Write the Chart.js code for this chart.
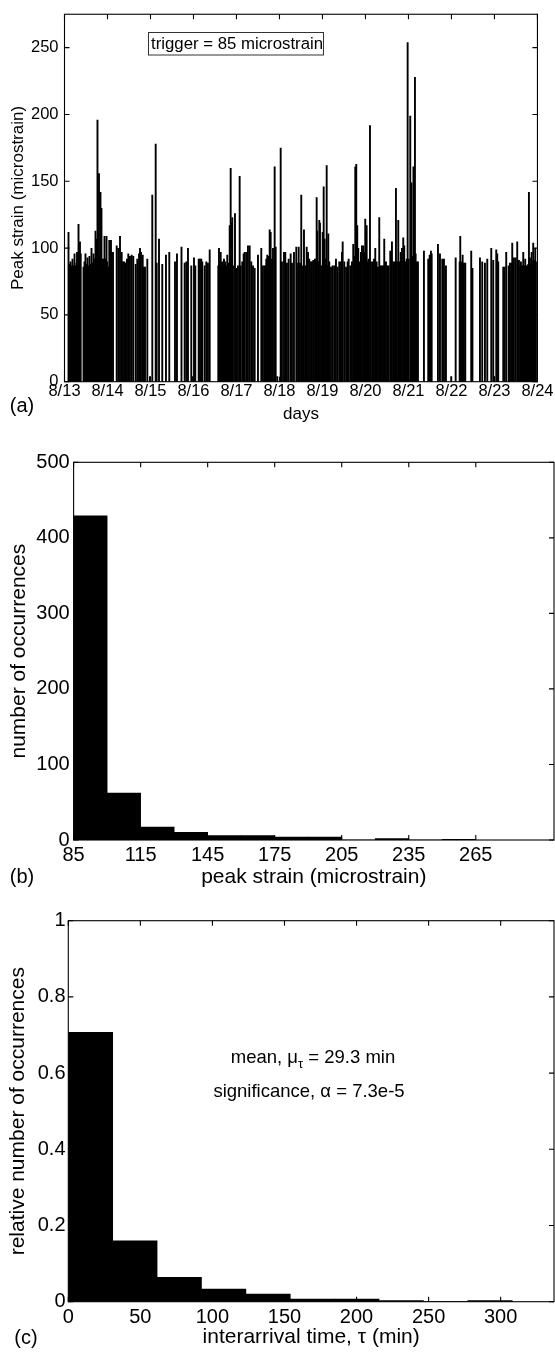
<!DOCTYPE html>
<html lang="en">
<head>
<meta charset="UTF-8">
<script src="https://cdn.jsdelivr.net/npm/chart.js"></script>
<style>
  body { margin: 0; background: #fff; }
  #quadro { position: relative; width: 555px; height: 1353px; }
  canvas { position: absolute; left: 0; }
</style>
</head>
<body>
<div id="quadro">
  <canvas id="grafico-a" width="555" height="430" style="top:0px"></canvas>
  <canvas id="grafico-b" width="555" height="450" style="top:440px"></canvas>
  <canvas id="grafico-c" width="555" height="463" style="top:890px"></canvas>
</div>
<script>
// (a) triggered events: time in days after 8/13 00:00, peak strain in microstrain
var eventDays = [
  0.093,0.116,0.140,0.163,0.186,0.209,0.233,0.256,0.279,0.291,0.314,0.326,0.349,0.360,0.377,
  0.442,0.465,0.488,0.512,0.535,0.558,0.581,0.605,0.628,0.651,
  0.674,0.698,0.721,0.744,0.767,0.779,0.802,0.814,0.837,0.860,0.884,0.907,0.930,0.953,0.977,0.995,
  1.023,1.042,1.063,1.081,1.100,1.128,1.214,1.251,1.291,1.330,1.360,1.391,1.423,1.453,1.484,1.523,
  1.563,1.600,1.656,1.693,1.733,1.756,1.779,1.819,1.849,1.872,1.926,1.988,2.042,2.121,2.144,2.198,
  2.274,2.360,2.437,2.570,2.616,2.721,
  2.795,2.833,2.872,2.949,2.988,3.012,3.042,3.121,3.151,3.181,3.205,3.260,3.298,3.337,3.377,
  3.577,3.593,3.616,3.633,3.651,3.663,3.686,3.709,3.733,3.740,3.763,3.786,3.807,3.842,3.865,3.879,
  3.902,3.919,3.965,3.995,
  4.035,4.074,4.098,4.135,4.167,4.191,4.228,4.267,4.307,4.344,4.384,4.423,4.500,4.577,4.616,4.656,
  4.679,4.693,4.716,4.749,4.772,4.795,4.826,4.849,4.888,4.912,4.949,
  5.028,5.058,5.105,5.135,5.174,5.214,5.260,5.291,5.337,5.391,
  5.407,5.447,5.477,5.507,5.540,5.570,5.600,5.633,5.663,5.693,5.733,5.756,5.786,5.826,5.849,5.865,
  5.879,5.902,5.926,5.942,5.972,6.005,6.028,6.051,6.074,6.098,6.121,6.135,6.158,6.198,
  6.237,6.274,6.314,6.353,6.391,6.430,6.453,6.470,6.507,6.549,6.586,6.609,6.647,6.686,6.716,6.740,
  6.763,6.786,6.809,6.833,6.856,6.895,6.919,6.949,6.972,6.995,7.028,7.051,7.074,7.105,
  7.128,7.167,7.198,7.228,7.260,7.291,7.321,7.353,7.384,7.414,7.437,7.477,7.507,7.540,7.577,7.616,
  7.647,7.679,7.709,7.733,7.763,7.786,7.819,7.849,7.879,7.902,7.926,7.958,7.981,8.005,
  8.042,8.070,8.088,8.116,8.151,
  8.167,8.191,8.221,8.360,8.460,8.493,8.523,8.540,8.686,8.733,8.786,8.826,8.872,8.995,9.098,9.191,
  9.205,9.233,9.260,9.291,9.321,9.460,9.488,9.663,9.716,9.779,9.833,9.926,9.972,9.995,
  10.042,10.065,10.088,10.205,10.237,10.274,10.330,10.360,10.391,10.414,10.453,10.493,10.530,10.570,
  10.600,10.616,10.640,10.663,10.670,10.693,10.716,10.740,10.763,10.786,10.802,10.826,10.849,10.865,
  10.888,10.902,10.926,10.949,10.965
];
var eventPeaks = [
  112,88,90,87,92,87,96,87,89,97,87,118,86,105,96,
  86,90,96,88,93,87,94,88,100,89,
  96,92,113,107,196,92,156,94,142,130,92,92,109,92,109,90,
  86,106,94,106,97,97,102,100,109,97,90,90,89,92,96,94,
  95,94,88,92,96,100,97,95,86,86,92,4,140,178,89,107,
  88,95,97,90,96,101,
  89,90,100,87,4,93,87,92,92,92,90,87,90,89,99,
  87,100,88,97,87,90,87,92,88,90,87,95,89,117,160,119,
  123,87,126,85,
  87,154,87,90,96,97,97,102,102,90,87,85,95,100,87,87,
  87,92,95,94,114,112,92,100,161,101,4,
  175,90,97,97,89,92,96,89,97,101,
  89,101,89,140,87,114,87,101,97,92,90,90,91,92,92,138,
  113,90,121,119,87,112,146,107,92,162,87,111,90,86,
  87,87,92,86,90,90,97,105,90,86,90,92,87,90,103,94,
  161,163,117,100,90,97,102,102,97,122,117,90,92,192,
  90,90,92,100,90,86,123,87,87,87,107,90,87,87,98,105,
  90,90,145,90,121,90,97,100,108,102,90,92,254,92,
  199,149,94,161,228,
  96,90,90,98,92,95,98,96,103,96,92,92,87,4,93,90,
  109,90,95,89,89,98,85,93,90,89,92,100,91,4,
  99,96,90,86,86,97,87,89,89,104,93,93,105,91,
  87,90,87,87,97,87,92,87,87,88,142,93,88,97,
  90,104,91,100,90
];
var dayTicks = [0,1,2,3,4,5,6,7,8,9,10,11];
var dayLabels = ['8/13','8/14','8/15','8/16','8/17','8/18','8/19','8/20','8/21','8/22','8/23','8/24'];
var peakTicks = [0,50,100,150,200,250];

// (b) histogram of peak strain, 15 microstrain bins from 85
var strainBins = [92.5,107.5,122.5,137.5,152.5,167.5,182.5,197.5,212.5,227.5,242.5,257.5];
var strainCounts = [429,62,17,10,6,6,4,4,0,2,0,1];
var strainTicks = [85,115,145,175,205,235,265];
var countTicks = [0,100,200,300,400,500];

// (c) relative histogram of interarrival time (min)
var tauBins = [15.4,46.2,77.0,107.8,138.6,169.4,200.2,231.0,261.8,292.6];
var tauShares = [0.707,0.160,0.064,0.033,0.020,0.007,0.007,0.003,0,0.003];
var tauTicks = [0,50,100,150,200,250,300];
var shareTicks = [0,0.2,0.4,0.6,0.8,1];

Chart.defaults.font.family = "'Liberation Sans', Arial, sans-serif";
Chart.defaults.color = '#000';

var FONTE = "'Liberation Sans', Arial, sans-serif";

// box round the plot, inward ticks on all four sides, panel letter and notes
function moldura(letra, lx, ly, extra) {
    return {
        id: 'moldura',
        afterDraw: function (chart) {
            var ctx = chart.ctx;
            var a = chart.chartArea;
            var sx = chart.scales.x;
            var sy = chart.scales.y;
            var t = 5;
            ctx.save();
            ctx.strokeStyle = '#000';
            ctx.lineWidth = 1.1;
            ctx.strokeRect(a.left, a.top, a.right - a.left, a.bottom - a.top);
            ctx.beginPath();
            sx.ticks.forEach(function (k) {
                var px = sx.getPixelForValue(k.value);
                ctx.moveTo(px, a.bottom); ctx.lineTo(px, a.bottom - t);
                ctx.moveTo(px, a.top); ctx.lineTo(px, a.top + t);
            });
            sy.ticks.forEach(function (k) {
                var py = sy.getPixelForValue(k.value);
                ctx.moveTo(a.left, py); ctx.lineTo(a.left + t, py);
                ctx.moveTo(a.right, py); ctx.lineTo(a.right - t, py);
            });
            ctx.stroke();
            ctx.fillStyle = '#000';
            ctx.font = '20px ' + FONTE;
            ctx.textAlign = 'center';
            ctx.textBaseline = 'middle';
            ctx.fillText(letra, lx, ly);
            if (extra) extra(ctx, a);
            ctx.restore();
        }
    };
}

function eixoX(min, max, ticks, labels, fsize, pad, height, titulo, tsize, tpad) {
    return {
        type: 'linear', min: min, max: max, offset: false,
        grid: { display: false, drawTicks: false, offset: false },
        border: { display: false },
        afterBuildTicks: function (s) { s.ticks = ticks.map(function (v) { return { value: v }; }); },
        afterFit: function (s) { s.height = height; },
        ticks: {
            autoSkip: false, maxRotation: 0, minRotation: 0, padding: pad,
            font: { size: fsize, lineHeight: 1 },
            callback: function (v, i) { return labels ? labels[i] : String(v); }
        },
        title: { display: true, text: titulo, font: { size: tsize, lineHeight: 1 }, padding: { top: 0, bottom: tpad } }
    };
}

function eixoY(max, ticks, fsize, pad, width, titulo, tsize, tpad) {
    return {
        min: 0, max: max,
        grid: { display: false, drawTicks: false },
        border: { display: false },
        afterBuildTicks: function (s) { s.ticks = ticks.map(function (v) { return { value: v }; }); },
        afterFit: function (s) { s.width = width; },
        ticks: {
            padding: pad, font: { size: fsize, lineHeight: 1 },
            callback: function (v) { return String(v); }
        },
        title: { display: true, text: titulo, font: { size: tsize, lineHeight: 1 }, padding: { top: tpad, bottom: 0 } }
    };
}

var semLegenda = { legend: { display: false }, tooltip: { enabled: false } };

// (a)
var pontosA = eventDays.map(function (d, i) { return { x: d, y: eventPeaks[i] }; });
new Chart(document.getElementById('grafico-a'), {
    type: 'bar',
    data: {
        datasets: [{
            data: pontosA,
            backgroundColor: '#000',
            borderWidth: 0,
            barThickness: 1.9,
            inflateAmount: 0
        }]
    },
    options: {
        responsive: false,
        animation: false,
        layout: { padding: { top: 9, right: 17, left: 0, bottom: 0 } },
        plugins: semLegenda,
        scales: {
            x: eixoX(0, 11, dayTicks, dayLabels, 16.5, 1.5, 48.3, 'days', 17, 7),
            y: eixoY(275, peakTicks, 16.5, 6, 64.5, 'Peak strain (microstrain)', 17, 10)
        }
    },
    plugins: [moldura('(a)', 22, 406, function (ctx, a) {
        ctx.lineWidth = 1;
        ctx.strokeStyle = '#333';
        ctx.strokeRect(148.5, 32.5, 175, 22.5);
        ctx.font = '16.8px ' + FONTE;
        ctx.textAlign = 'left';
        ctx.fillText('trigger = 85 microstrain', 151, 44);
    })]
});

// (b)
var pontosB = strainBins.map(function (c, i) { return { x: c, y: strainCounts[i] }; });
new Chart(document.getElementById('grafico-b'), {
    type: 'bar',
    data: {
        datasets: [{
            data: pontosB,
            backgroundColor: '#000',
            borderWidth: 0,
            barPercentage: 1,
            categoryPercentage: 1
        }]
    },
    options: {
        responsive: false,
        animation: false,
        layout: { padding: { top: 22.3, right: 1, left: 0, bottom: 0 } },
        plugins: semLegenda,
        scales: {
            x: eixoX(85, 300, strainTicks, null, 20, 5, 50, 'peak strain (microstrain)', 21, 2),
            y: eixoY(500, countTicks, 20, 3.9, 73.6, 'number of occurrences', 21, 8.5)
        }
    },
    plugins: [moldura('(b)', 22, 437)]
});

// (c)
var pontosC = tauBins.map(function (c, i) { return { x: c, y: tauShares[i] }; });
new Chart(document.getElementById('grafico-c'), {
    type: 'bar',
    data: {
        datasets: [{
            data: pontosC,
            backgroundColor: '#000',
            borderWidth: 0,
            barPercentage: 1,
            categoryPercentage: 1
        }]
    },
    options: {
        responsive: false,
        animation: false,
        layout: { padding: { top: 30.7, right: 1, left: 0, bottom: 0 } },
        plugins: semLegenda,
        scales: {
            x: eixoX(0, 337, tauTicks, null, 20, 5.8, 51.3, 'interarrival time, \u03c4 (min)', 21, 5),
            y: eixoY(1, shareTicks, 20, 2.8, 68.3, 'relative number of occurrences', 21, 8)
        }
    },
    plugins: [moldura('(c)', 26, 448.5, function (ctx, a) {
        var big = '18.5px ' + FONTE, small = '13px ' + FONTE;
        var p1 = 'mean, \u03bc', sub = '\u03c4', p2 = ' = 29.3 min';
        ctx.font = big;
        var w1 = ctx.measureText(p1).width, w3 = ctx.measureText(p2).width;
        ctx.font = small;
        var w2 = ctx.measureText(sub).width;
        var x0 = 313 - (w1 + w2 + w3) / 2;
        ctx.textAlign = 'left';
        ctx.font = big;
        ctx.fillText(p1, x0, 168);
        ctx.font = small;
        ctx.fillText(sub, x0 + w1, 174);
        ctx.font = big;
        ctx.fillText(p2, x0 + w1 + w2, 168);
        ctx.textAlign = 'center';
        ctx.fillText('significance, \u03b1 = 7.3e-5', 309, 201.7);
    })]
});
</script>
</body>
</html>
